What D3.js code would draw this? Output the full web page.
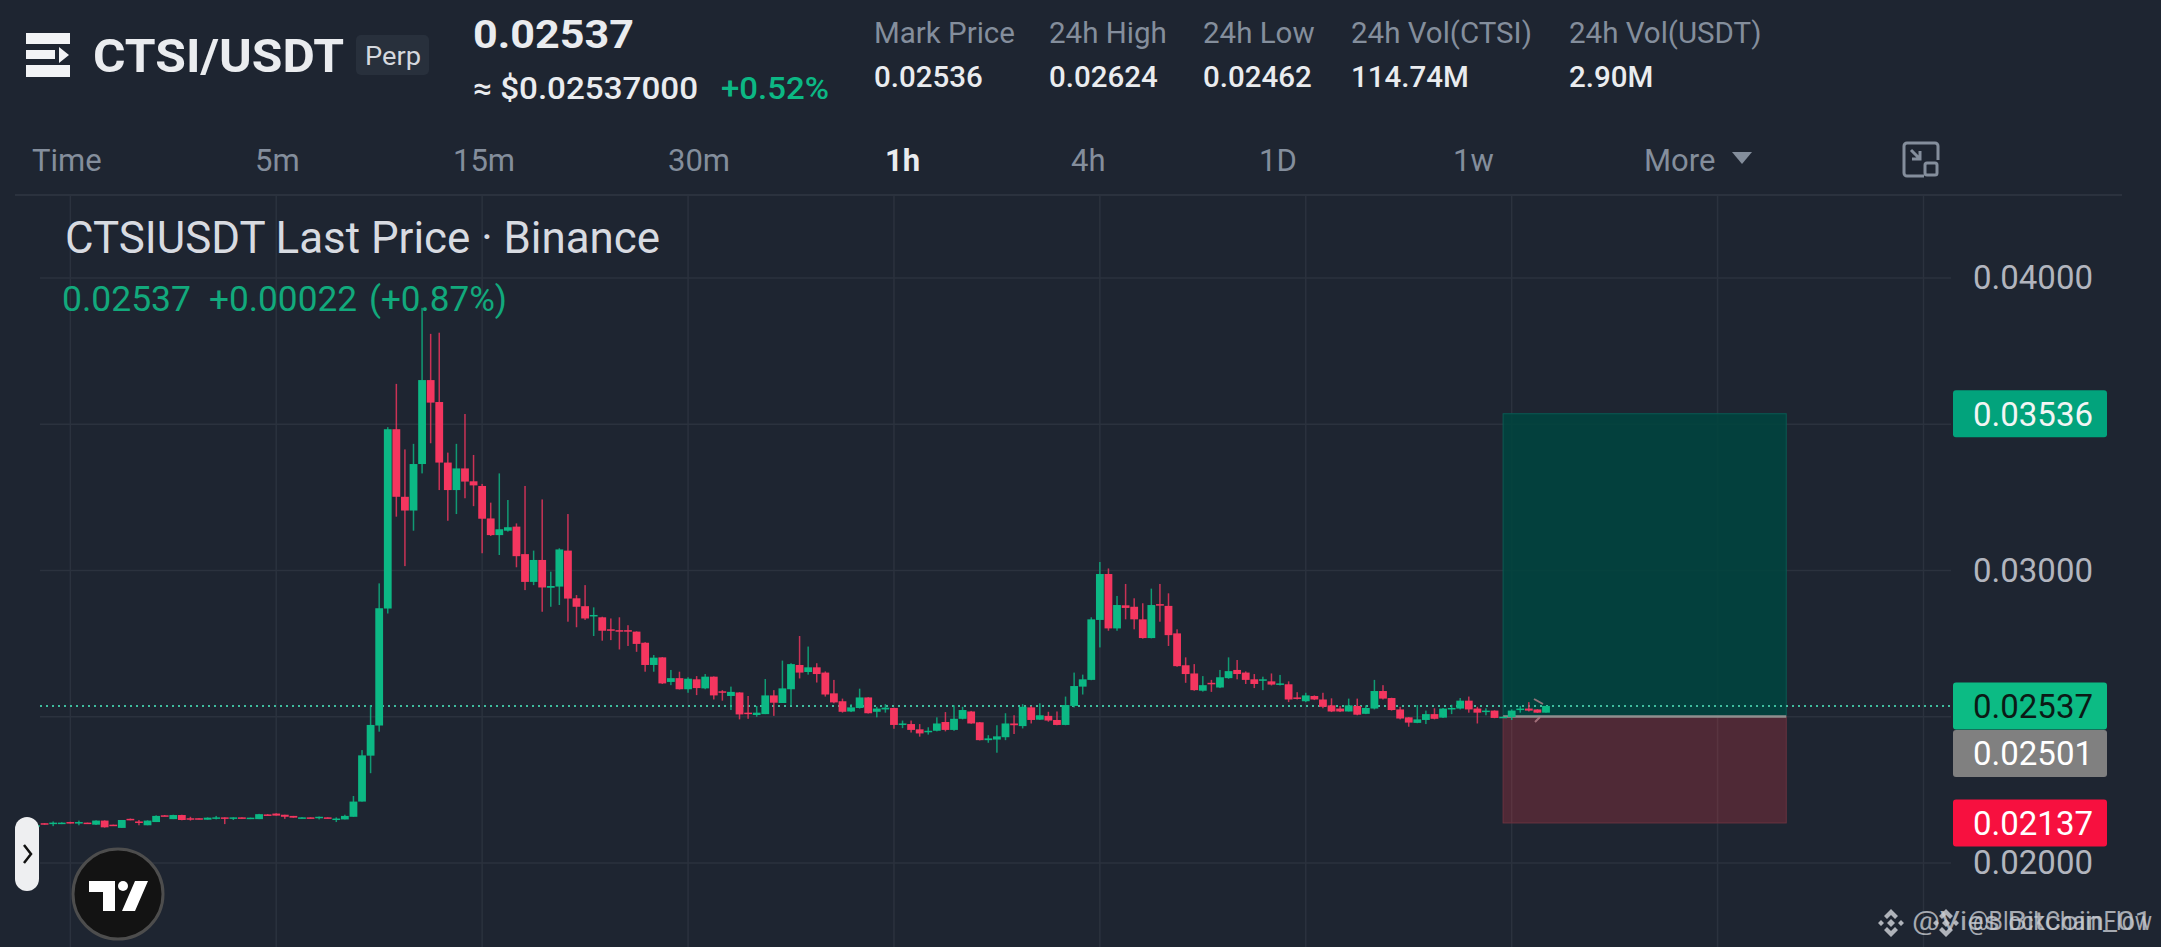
<!DOCTYPE html>
<html>
<head>
<meta charset="utf-8">
<title>CTSI/USDT</title>
<script src="https://cdn.jsdelivr.net/npm/d3@7"></script>
<style>
    html, body { margin: 0; padding: 0; background: #1e2531; overflow: hidden; }
    text { font-family: Roboto, sans-serif; }
</style>
</head>
<body>
<svg id="chart" width="2161" height="947"></svg>
<script>
// hourly candles, prices in units of 0.00001 USDT
const opens = [
    2124,2136,2133,2134,2140,2136,2138,2131,2145,2131,
    2120,2151,2142,2129,2140,2163,2150,2164,2153,2153,
    2148,2152,2156,2152,2156,2150,2150,2166,2169,2165,
    2161,2152,2156,2155,2156,2147,2149,2158,2210,2367,
    2470,2870,3483,3252,3205,3364,3651,3576,3369,3275,
    3349,3305,3289,3178,3121,3136,3150,3056,2961,3036,
    2941,2945,3068,2905,2878,2843,2840,2799,2796,2796,
    2791,2753,2677,2703,2619,2632,2594,2628,2597,2637,
    2587,2571,2583,2514,2506,2509,2573,2547,2594,2677,
    2653,2669,2651,2580,2553,2518,2530,2566,2517,2525,
    2530,2472,2475,2457,2448,2452,2482,2455,2493,2518,
    2481,2420,2422,2430,2477,2468,2532,2490,2503,2489,
    2472,2537,2603,2626,2831,2988,2802,2881,2876,2833,
    2769,2885,2879,2785,2676,2648,2589,2616,2600,2632,
    2660,2651,2628,2623,2621,2610,2611,2566,2553,2571,
    2559,2539,2528,2518,2537,2510,2528,2588,2564,2525,
    2498,2479,2489,2509,2497,2525,2528,2555,2528,2517,
    2521,2497,2499,2524,2528,2525,2514
];
const closes = [
    2129,2131,2138,2138,2136,2140,2134,2145,2122,2128,
    2147,2147,2138,2145,2161,2160,2164,2147,2148,2149,
    2155,2156,2152,2156,2152,2155,2167,2163,2162,2158,
    2155,2156,2152,2158,2152,2152,2161,2210,2368,2472,
    2871,3483,3252,3205,3364,3651,3574,3369,3275,3349,
    3304,3291,3177,3121,3141,3148,3049,2961,3036,2942,
    2947,3072,2904,2876,2836,2848,2794,2794,2792,2792,
    2749,2677,2702,2614,2632,2594,2630,2598,2637,2573,
    2582,2585,2508,2509,2514,2573,2548,2597,2680,2651,
    2669,2646,2576,2549,2517,2532,2566,2512,2528,2531,
    2472,2477,2455,2443,2452,2477,2455,2493,2523,2477,
    2420,2426,2433,2477,2471,2534,2489,2505,2487,2472,
    2540,2605,2628,2833,2988,2802,2882,2872,2833,2769,
    2882,2880,2779,2673,2646,2591,2608,2612,2635,2656,
    2646,2626,2612,2628,2610,2614,2559,2562,2573,2559,
    2534,2518,2518,2539,2507,2530,2588,2562,2523,2494,
    2480,2491,2509,2493,2528,2530,2555,2525,2514,2521,
    2496,2500,2521,2528,2521,2514,2537
];
const highs = [
    2129,2136,2142,2139,2141,2145,2138,2146,2146,2131,
    2147,2152,2147,2146,2163,2164,2165,2165,2158,2153,
    2156,2161,2156,2156,2156,2155,2168,2167,2170,2165,
    2161,2157,2156,2159,2156,2156,2165,2229,2386,2540,
    2956,3490,3638,3414,3433,3898,3809,3813,3403,3433,
    3535,3395,3296,3232,3332,3241,3161,3289,3068,3243,
    2996,3076,3193,2916,2950,2874,2842,2836,2840,2813,
    2792,2755,2711,2704,2660,2654,2635,2639,2646,2638,
    2591,2603,2584,2571,2537,2629,2591,2692,2683,2776,
    2740,2683,2655,2626,2562,2543,2596,2567,2534,2543,
    2531,2487,2487,2475,2464,2498,2516,2539,2534,2520,
    2482,2437,2471,2512,2505,2543,2537,2546,2517,2518,
    2569,2651,2644,2840,3029,3007,2913,2954,2905,2888,
    2938,2954,2922,2799,2703,2680,2639,2626,2660,2703,
    2694,2655,2646,2637,2648,2643,2621,2584,2582,2573,
    2582,2563,2537,2562,2562,2539,2626,2608,2565,2534,
    2499,2540,2521,2529,2530,2541,2564,2569,2534,2529,
    2522,2501,2525,2537,2550,2526,2537
];
const lows = [
    2124,2131,2126,2133,2135,2129,2134,2130,2121,2128,
    2120,2146,2129,2129,2140,2160,2150,2146,2145,2149,
    2148,2149,2133,2147,2152,2150,2150,2163,2162,2151,
    2155,2152,2152,2149,2152,2140,2149,2158,2210,2307,
    2449,2853,3184,3015,3136,3332,3435,3275,3170,3193,
    3247,3220,3059,3118,3053,3133,3011,2933,2950,2859,
    2876,2882,2825,2806,2831,2776,2760,2762,2730,2742,
    2722,2654,2654,2612,2608,2593,2582,2574,2594,2559,
    2555,2523,2491,2493,2500,2509,2503,2547,2539,2631,
    2644,2617,2569,2546,2514,2516,2528,2511,2498,2514,
    2459,2461,2446,2432,2439,2450,2450,2452,2491,2476,
    2419,2411,2377,2420,2441,2460,2477,2489,2483,2471,
    2471,2532,2576,2625,2737,2794,2794,2833,2799,2767,
    2768,2825,2742,2671,2616,2589,2586,2585,2598,2630,
    2628,2612,2598,2591,2607,2607,2550,2559,2550,2557,
    2529,2516,2516,2518,2505,2509,2525,2559,2521,2491,
    2466,2478,2475,2491,2496,2509,2525,2514,2477,2505,
    2495,2496,2489,2514,2518,2513,2514
];

const priceGrid = [0.02, 0.025, 0.03, 0.035, 0.04];
const priceLabels = [0.02, 0.03, 0.04]; // the other two sit behind the price tags
const timeGrid = [4, 28, 52, 76, 100, 124, 148, 172, 196, 220]; // every 24 bars

const lastPrice = 0.02537;
const entryPrice = 0.02501;
const targetPrice = 0.03536;
const stopPrice = 0.02137;
const toolStart = 171;
const toolEnd = 204;

const tabs = ["Time", "5m", "15m", "30m", "1h", "4h", "1D", "1w", "More"];
const tabX = [32, 255, 453, 668, 885, 1071, 1259, 1453, 1644];
const statNames = ["Mark Price", "24h High", "24h Low", "24h Vol(CTSI)", "24h Vol(USDT)"];
const statValues = ["0.02536", "0.02624", "0.02462", "114.74M", "2.90M"];
const statX = [874, 1049, 1203, 1351, 1569];

const bg = "#1e2531", gridColor = "#2b323e";
const green = "#0cb884", red = "#f4365f", grey = "#848e9c";

const svg = d3.select("#chart");
svg.append("rect").attr("width", 2161).attr("height", 947).attr("fill", bg);

const candles = opens.map((o, i) => ({
    i, open: o / 1e5, close: closes[i] / 1e5, high: highs[i] / 1e5, low: lows[i] / 1e5
}));

const x = d3.scaleLinear().domain([0, 176]).range([36, 1546]);
const y = d3.scaleLinear().domain([0.02, 0.04]).range([863, 278]);

function label(parent, str, px, py, size, color, weight, width) {
    const t = parent.append("text")
        .attr("x", px).attr("y", py)
        .attr("font-size", size)
        .attr("font-weight", weight || 400)
        .attr("fill", color)
        .text(str);
    if (width) t.attr("textLength", width).attr("lengthAdjust", "spacingAndGlyphs");
    return t;
}

// header
const head = svg.append("g");
head.append("path")
    .attr("fill", "#f2f3f5")
    .attr("d", "M26 33H70V44H26Z M26 65H70V77H26Z M26 50H55V59H26Z M59 47L69 55L59 63Z");
label(head, "CTSI/USDT", 93, 72, 47, "#eaecef", 700, 251);
head.append("rect").attr("x", 356).attr("y", 35).attr("width", 73).attr("height", 40).attr("rx", 5).attr("fill", "#28303c");
label(head, "Perp", 365, 65, 26, "#d5d8de", 400, 56);
label(head, "0.02537", 473, 48, 39, "#eaecef", 700, 161);
label(head, "≈ $0.02537000", 473, 99, 31, "#eaecef", 500, 225);
label(head, "+0.52%", 721, 99, 31, green, 500, 108);

statNames.forEach((s, i) => {
    label(head, s, statX[i], 43, 29.5, grey);
    label(head, statValues[i], statX[i], 87, 29.5, "#eaecef", 500);
});

// interval tabs
tabs.forEach((t, i) => {
    const active = t === "1h";
    label(head, t, tabX[i], 171, 31, active ? "#eaecef" : grey, active ? 700 : 400);
});
head.append("path").attr("fill", grey).attr("d", "M1732 152H1752L1742 164Z");
head.append("rect").attr("x", 1904).attr("y", 143).attr("width", 34).attr("height", 33).attr("rx", 3)
    .attr("fill", "none").attr("stroke", grey).attr("stroke-width", 3);
head.append("rect").attr("x", 1924).attr("y", 160).attr("width", 16).attr("height", 18).attr("fill", bg);
head.append("rect").attr("x", 1925).attr("y", 163).attr("width", 12).attr("height", 12).attr("rx", 2)
    .attr("fill", "none").attr("stroke", grey).attr("stroke-width", 3);
head.append("path").attr("fill", "none").attr("stroke", grey).attr("stroke-width", 3)
    .attr("d", "M1911 150L1920 159M1920 151V159H1912");
svg.append("rect").attr("x", 15).attr("y", 194).attr("width", 2107).attr("height", 2).attr("fill", gridColor);

// grid
svg.append("g").selectAll("line").data(timeGrid).enter().append("line")
    .attr("x1", d => x(d)).attr("x2", d => x(d))
    .attr("y1", 196).attr("y2", 947)
    .attr("stroke", gridColor).attr("stroke-width", 1.5);
svg.append("g").selectAll("line").data(priceGrid).enter().append("line")
    .attr("x1", 40).attr("x2", 1951)
    .attr("y1", d => y(d)).attr("y2", d => y(d))
    .attr("stroke", gridColor).attr("stroke-width", 1.5);

// long position tool
const tool = svg.append("g");
tool.append("rect")
    .attr("x", x(toolStart)).attr("width", x(toolEnd) - x(toolStart))
    .attr("y", y(targetPrice)).attr("height", y(entryPrice) - y(targetPrice))
    .attr("fill", "#00443f").attr("fill-opacity", 0.88)
    .attr("stroke", "#0a5a53").attr("stroke-width", 1);
tool.append("rect")
    .attr("x", x(toolStart)).attr("width", x(toolEnd) - x(toolStart))
    .attr("y", y(entryPrice)).attr("height", y(stopPrice) - y(entryPrice))
    .attr("fill", "#ff3c4b").attr("fill-opacity", 0.22)
    .attr("stroke", "#6a3340").attr("stroke-width", 1);
tool.append("line")
    .attr("x1", x(toolStart)).attr("x2", x(toolEnd))
    .attr("y1", y(entryPrice)).attr("y2", y(entryPrice))
    .attr("stroke", "#8f8f8f").attr("stroke-width", 2.5);

// last price line
svg.append("line")
    .attr("x1", 40).attr("x2", 1950)
    .attr("y1", y(lastPrice)).attr("y2", y(lastPrice))
    .attr("stroke", "#3fbd9e").attr("stroke-width", 2)
    .attr("stroke-dasharray", "2,4");

// candles
const bars = svg.append("g").selectAll("g").data(candles).enter().append("g")
    .attr("fill", d => d.close >= d.open ? green : red);
bars.append("rect")
    .attr("x", d => x(d.i) - 0.75).attr("width", 1.5)
    .attr("y", d => y(d.high))
    .attr("height", d => y(d.low) - y(d.high))
    .attr("opacity", 0.8);
bars.append("rect")
    .attr("x", d => x(d.i) - 3.9).attr("width", 7.8)
    .attr("y", d => y(Math.max(d.open, d.close)))
    .attr("height", d => Math.max(1.5, Math.abs(y(d.open) - y(d.close))));

// trade arrow left on the last bars
svg.append("path")
    .attr("fill", "none").attr("stroke", "#b5808a").attr("stroke-width", 2).attr("opacity", 0.8)
    .attr("d", "M1534 699L1543 704M1540 717L1535 722");

// price axis
const axis = svg.append("g")
    .attr("transform", "translate(1973,0)")
    .call(d3.axisRight(y).tickValues(priceLabels).tickFormat(d3.format(".5f")).tickSize(0).tickPadding(0));
axis.select(".domain").remove();
axis.selectAll("text")
    .attr("font-size", 33)
    .attr("font-family", "Roboto, sans-serif")
    .attr("fill", "#b2b5be");

// price tags
const tags = [
    { price: targetPrice, fill: "#02a37c", color: "#f2f5f4", nudge: 0 },
    { price: entryPrice, fill: "#808080", color: "#ffffff", nudge: 37 },
    { price: lastPrice, fill: "#0cbb84", color: "#0b1a16", nudge: 0 },
    { price: stopPrice, fill: "#f7103f", color: "#ffffff", nudge: 0 }
];
const tagG = svg.append("g").selectAll("g").data(tags).enter().append("g")
    .attr("transform", d => `translate(1953,${y(d.price) + d.nudge})`);
tagG.append("rect")
    .attr("y", -23.5).attr("width", 154).attr("height", 47).attr("rx", 3)
    .attr("fill", d => d.fill);
tagG.append("text")
    .attr("x", 80).attr("y", 12)
    .attr("text-anchor", "middle")
    .attr("font-size", 33)
    .attr("fill", d => d.color)
    .text(d => d3.format(".5f")(d.price));

// legend
label(svg, "CTSIUSDT Last Price · Binance", 65, 253, 44, "#d8dbe1", 400, 595);
label(svg, "0.02537", 62, 311, 35, "#12a97c", 400, 129);
label(svg, "+0.00022", 209, 311, 35, "#12a97c", 400, 148);
label(svg, "(+0.87%)", 369, 311, 35, "#12a97c", 400, 138);

// side toggle and TV logo
svg.append("rect").attr("x", 15).attr("y", 817).attr("width", 24).attr("height", 74).attr("rx", 12).attr("fill", "#eeeff1");
svg.append("path").attr("fill", "none").attr("stroke", "#111").attr("stroke-width", 2.5).attr("d", "M24 845L31 854L24 863");
svg.append("circle").attr("cx", 118).attr("cy", 894).attr("r", 45).attr("fill", "#131313").attr("stroke", "#4d4d4d").attr("stroke-width", 3);
svg.append("path").attr("fill", "#fff").attr("d", "M89 881H115V911H103V892H89Z M135 881H148L135 911H122Z");
svg.append("circle").attr("cx", 123).attr("cy", 886).attr("r", 5).attr("fill", "#fff");

// watermarks, two of them stacked on each other
[1891, 1946].forEach(cx => {
    svg.append("path")
        .attr("transform", `translate(${cx},923)`)
        .attr("fill", "#c9ccd2").attr("opacity", 0.85)
        .attr("d", "M0 -14L7 -7L4 -4L0 -8L-4 -4L-7 -7Z M0 14L7 7L4 4L0 8L-4 4L-7 7Z M0 -4L4 0L0 4L-4 0Z M-10 -3L-7 0L-10 3L-13 0Z M10 -3L13 0L10 3L7 0Z");
});
label(svg, "@Vies Bitcoin_01", 1912, 930, 25, "#c9ccd2", 400, 240).attr("opacity", 0.8);
label(svg, "@BlockChainFlow", 1968, 930, 25, "#c9ccd2", 400, 184).attr("opacity", 0.8);
</script>
</body>
</html>
